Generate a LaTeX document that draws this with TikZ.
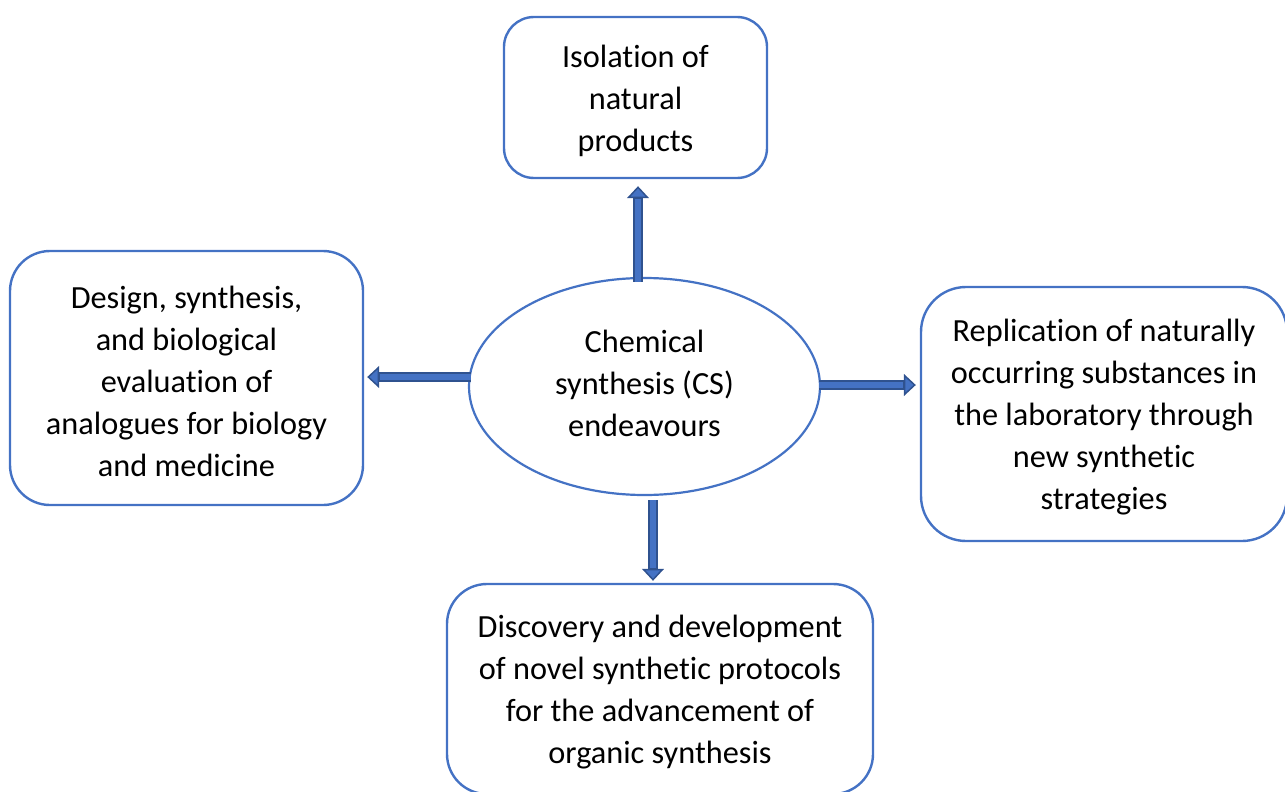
\documentclass[tikz,border=0pt]{standalone}
\usepackage{fontspec}
\setmainfont{Carlito}[Ligatures=NoCommon]
\usetikzlibrary{arrows.meta,shapes.geometric}
\definecolor{boxblue}{HTML}{4472C4}
\definecolor{arrowedge}{HTML}{2F528F}
\newcommand{\boxstrut}{\rule{0pt}{28.5pt}}

\begin{document}
\begin{tikzpicture}[x=1pt,y=-1pt,
  box/.style={draw=boxblue,line width=2.4pt,rounded corners=#1,align=center,inner sep=0pt,
    font=\fontsize{32.3}{42}\selectfont},
  fat/.style={boxblue,line width=6pt,shorten >=13pt,
    preaction={draw=arrowedge,line width=10pt,shorten >=0pt,
      -{Triangle[width=22pt,length=12pt,line width=1.5pt,fill=boxblue]}}}]
\useasboundingbox (0,0) rectangle (1285,792);
\clip (0,0) rectangle (1285,792);

\node[ellipse,draw=boxblue,line width=2.2pt,minimum width=351pt,minimum height=217pt,
  inner sep=0pt,align=center,font=\fontsize{32.3}{42}\selectfont,
  execute at end node={\rule[-6pt]{0pt}{0pt}}] (cs) at (644.5,386.5)
  {Chemical\\synthesis (CS)\\endeavours};

\node[box=30pt,minimum width=263pt,minimum height=161pt] (iso) at (635.5,97.5)
  {\boxstrut Isolation of\\natural\\products};
\node[box=40pt,minimum width=353pt,minimum height=254pt] (design) at (186.5,378)
  {\boxstrut Design, synthesis,\\and biological\\evaluation of\\analogues for biology\\and medicine};
\node[box=45pt,minimum width=366pt,minimum height=254pt] (repl) at (1104,414)
  {\boxstrut Replication of naturally\\occurring substances in\\the laboratory through\\new synthetic\\strategies};
\node[box=40pt,minimum width=426pt,minimum height=210pt] (disc) at (660,689)
  {\boxstrut Discovery and development\\of novel synthetic protocols\\for the advancement of\\organic synthesis};

% block arrows out of the ellipse
\draw[fat] ([xshift=-6.5pt,yshift=-5pt]cs.north) -- ([xshift=2.5pt,yshift=-7pt]iso.south);
\draw[fat] ([xshift=3pt,yshift=9.5pt]cs.west) -- ([xshift=3pt,yshift=1pt]design.east);
\draw[fat] ([xshift=-2pt,yshift=1.5pt]cs.east) -- ([xshift=-4pt,yshift=29pt]repl.west);
\draw[fat] ([xshift=8.5pt,yshift=-4pt]cs.south) -- ([xshift=-7pt,yshift=2pt]disc.north);
\end{tikzpicture}
\end{document}
